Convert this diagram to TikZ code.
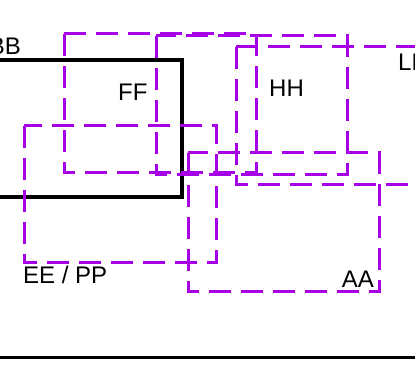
\documentclass[tikz,border=0pt]{standalone}
\usepackage{fontspec}
\setmainfont{Liberation Sans}
\usepackage{xcolor}
\usepackage{tikz}
\usetikzlibrary{positioning, calc}

\definecolor{zonepurple}{RGB}{165,0,230}

\begin{document}
\begin{tikzpicture}[
    x=1pt, y=-1pt,
    font=\fontsize{24}{28}\selectfont,
    zone/.style={draw=zonepurple, line width=3pt, dash pattern=on 22pt off 10pt},
    frame/.style={draw=black, line width=4pt},
    tag/.style={inner sep=0pt, text=black}
  ]
  \useasboundingbox (0,0) rectangle (415,371);

  % solid frame and base line
  \draw[frame] (-10,60) rectangle (182,197);
  \draw[draw=black, line width=3pt] (0,357) -- (415,357);

  % dashed zones
  \draw[zone] (64,34) rectangle (256,173);
  \draw[zone] (156,36) rectangle (347,175);
  \draw[zone] (236,47) -- (430,47);
  \draw[zone] (236,47) -- (236,185) -- (430,185);
  \draw[zone] (24,126) rectangle (216,263);
  \draw[zone] (188,153) rectangle (379,292);

  % labels
  \node[tag, anchor=base east] (bb) at (21,55) {BB};
  \node[tag, anchor=base west] (ff) at (118,101) {FF};
  \node[tag, anchor=base west] (hh) at (269,97) {HH};
  \node[tag, anchor=base west] (ll) at (398,71) {LL};
  \node[tag, anchor=base west] (ee) at (23,284) {EE / PP};
  \node[tag, anchor=base east] (aa) at (374,288) {AA};
\end{tikzpicture}
\end{document}
